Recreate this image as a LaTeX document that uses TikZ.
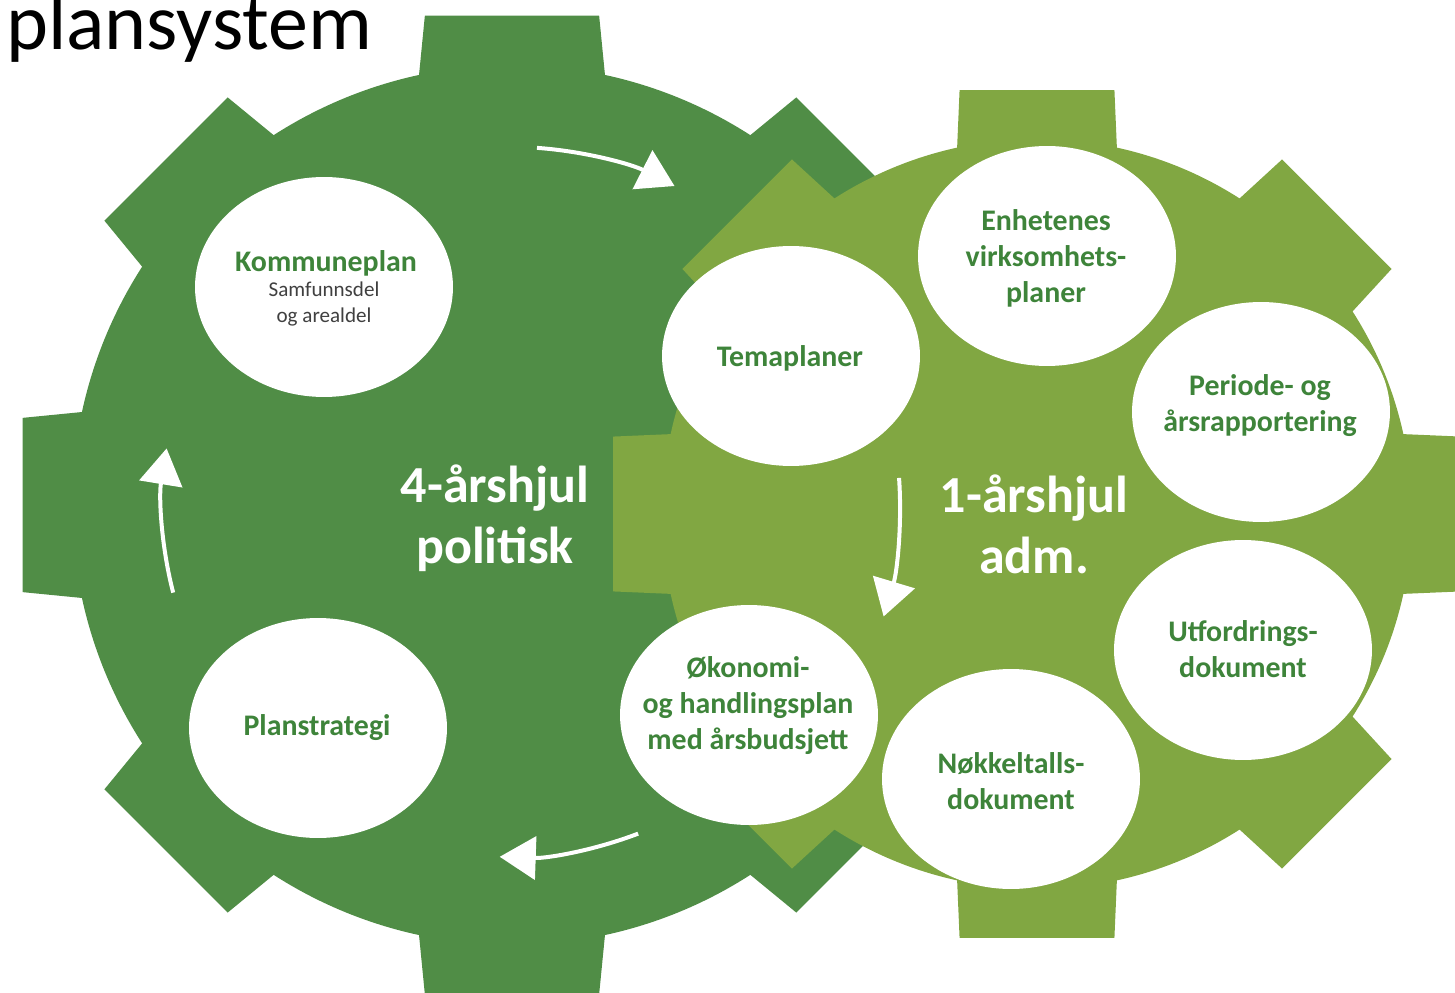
\documentclass[tikz,border=0pt]{standalone}
\usepackage{fontspec}
\setmainfont{Carlito}
\usetikzlibrary{shapes.geometric,arrows.meta}

\definecolor{cogdark}{RGB}{80,141,70}
\definecolor{coglight}{RGB}{129,167,66}
\definecolor{bubblegreen}{RGB}{62,132,58}

\tikzset{
	bubble/.style={ellipse, fill=white, minimum width=5.16cm, minimum height=4.4cm, inner sep=0pt},
	bubbletext/.style={align=center, text=bubblegreen, inner sep=0pt, font=\bfseries\fontsize{17}{20.5}\selectfont},
	subtext/.style={align=center, text=black!75, inner sep=0pt, font=\fontsize{12}{14.8}\selectfont},
	wheeltext/.style={align=center, text=white, inner sep=0pt, font=\bfseries\fontsize{29.6}{34.7}\selectfont},
	turn/.style={white, line width=0.08cm, -{Triangle[length=0.72cm,width=0.86cm]}}
}

% gear: fill, centre, tip radius, root radius, tip half angle, root half angle
\newcommand{\cog}[6]{%
	\begin{scope}[shift={(#2)}]
		\fill[#1] (-#6:#4)
		\foreach \t in {0,45,...,315}{
			-- (\t-#6:#4) -- (\t-#5:#3) -- (\t+#5:#3) -- (\t+#6:#4)
			arc[start angle=\t+#6, end angle=\t+45-#6, radius=#4]
		} -- cycle;
	\end{scope}}

\begin{document}
\begin{tikzpicture}[x=0.02cm, y=-0.02cm]
	\useasboundingbox (0,0) rectangle (1455,993);
	\clip (0,0) rectangle (1455,993);

	\coordinate (pol) at (512,505);
	\coordinate (adm) at (1037,514);

	% wheels
	\cog{cogdark}{pol}{497}{440}{10.1}{12.2}
	\cog{coglight}{adm}{431}{375}{10.35}{12.3}

	% bubbles
	\node[bubble] (kplan) at (324,287) {};
	\node[bubble] (pstrat) at (318,728) {};
	\node[bubble] (tema) at (791,356) {};
	\node[bubble] (enh) at (1047,256) {};
	\node[bubble] (periode) at (1261,412) {};
	\node[bubble] (utf) at (1243,650) {};
	\node[bubble] (nokkel) at (1011,779) {};
	\node[bubble] (okonomi) at (749,715) {};

	\node[bubbletext] (kplan-t) at (326,263) {Kommuneplan};
	\node[subtext] (kplan-s) at (324,304) {Samfunnsdel\\og arealdel};
	\node[bubbletext] (pstrat-t) at (317,728) {Planstrategi};
	\node[bubbletext] (tema-t) at (790,358) {Temaplaner};
	\node[bubbletext] (enh-t) at (1046,258) {Enhetenes\\virksomhets-\\planer};
	\node[bubbletext] (periode-t) at (1260,406) {Periode- og\\årsrapportering};
	\node[bubbletext] (utf-t) at (1243,649) {Utfordrings-\\dokument};
	\node[bubbletext] (nokkel-t) at (1011,781) {Nøkkeltalls-\\dokument};
	\node[bubbletext] (okonomi-t) at (748,706) {Økonomi-\\og handlingsplan\\med årsbudsjett};

	% title
	\node[anchor=base west, inner sep=0pt, font=\fontsize{45.5}{50}\selectfont] (title) at (6,50) {plansystem};

	% wheel labels
	\node[wheeltext] (pol-t) at (495,518) {4-årshjul\\politisk};
	\node[wheeltext] (adm-t) at (1034,524) {1-årshjul\\adm.};

	% arrows
	\draw[turn] ([shift={(-86:358)}]pol) arc[start angle=-86, end angle=-63, radius=358];
	\draw[turn] ([shift={(-194.5:350)}]pol) arc[start angle=-194.5, end angle=-170.7, radius=350];
	\draw[turn] ([shift={(-291:352)}]pol) arc[start angle=-291, end angle=-268, radius=352];
	\draw[turn] ([shift={(-4:388)}]pol) arc[start angle=-4, end angle=16.7, radius=388];
\end{tikzpicture}
\end{document}
